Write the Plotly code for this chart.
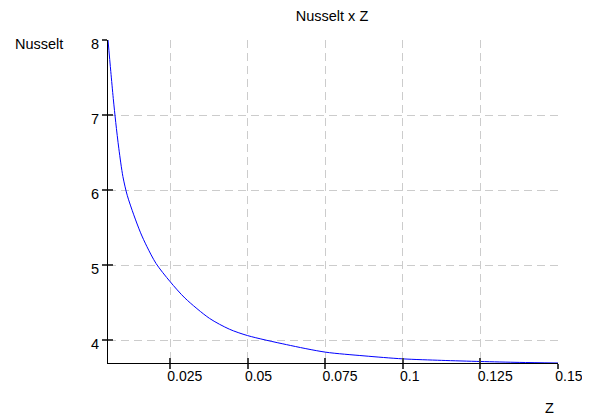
import plotly.graph_objects as go

z_values = [0.005, 0.0059, 0.0067, 0.0075, 0.0085, 0.0098, 0.0112, 0.0133, 0.0155,
            0.0175, 0.0205, 0.025, 0.0298, 0.0377, 0.0441, 0.05, 0.0625, 0.075,
            0.0875, 0.1, 0.1125, 0.125, 0.1375, 0.15]
nusselt_values = [8.0, 7.58, 7.22, 6.9, 6.55, 6.18, 5.93, 5.67, 5.43,
                  5.25, 5.02, 4.78, 4.56, 4.29, 4.146, 4.06, 3.94, 3.84,
                  3.79, 3.75, 3.73, 3.715, 3.703, 3.695]
x_ticks = [0.025, 0.05, 0.075, 0.1, 0.125, 0.15]
x_tick_labels = ["0.025", "0.05", "0.075", "0.1", "0.125", "0.15"]
y_ticks = [4, 5, 6, 7, 8]
y_tick_labels = ["4", "5", "6", "7", "8"]

x_range = [0.005, 0.15]
y_range = [3.695, 8.0]

FAM = "Liberation Sans, Arial, sans-serif"
font = dict(family=FAM, size=14.5, color="#000")
xfont = dict(family=FAM, size=14, color="#000")

fig = go.Figure()
fig.add_trace(go.Scatter(x=z_values, y=nusselt_values, mode="lines",
                         line=dict(color="#0000ff", width=1, shape="spline", smoothing=0.8),
                         showlegend=False, hoverinfo="skip"))

common = dict(showline=True, linecolor="#000", linewidth=1, zeroline=False,
              tickcolor="#444", ticklen=5, tickwidth=1.5, automargin=False)

# page has an 8px body margin, so the figure is laid out 8px smaller
W, H = 582, 411
fig.update_layout(
    width=W, height=H,
    margin=dict(l=100, r=32, t=32, b=56, autoexpand=False),
    paper_bgcolor="white", plot_bgcolor="white",
    font=font,
    title=dict(text="Nusselt x Z", x=324/W, xref="container", xanchor="center",
               y=1-8/H, yref="container", yanchor="middle",
               font=dict(family=FAM, size=14.5, color="#000")),
    xaxis=dict(range=x_range, tickvals=x_ticks, ticktext=x_tick_labels, ticks="outside",
               ticklabelposition="outside right", ticklabelshift=-4,
               ticklabeloverflow="allow",
               showgrid=True, gridcolor="#cccccc", griddash="8px,5px", gridwidth=1,
               tickfont=xfont, **common),
    yaxis=dict(range=y_range, tickvals=y_ticks, ticktext=y_tick_labels, ticks="outside",
               ticklabelshift=4,
               showgrid=True, gridcolor="#cccccc", griddash="8px,5px", gridwidth=1,
               tickfont=font, **common),
    xaxis2=dict(range=x_range, tickvals=x_ticks, ticks="inside", showticklabels=False,
                showgrid=False, overlaying="x", matches="x", **common),
    yaxis2=dict(range=y_range, tickvals=y_ticks, ticks="inside", showticklabels=False,
                showgrid=False, overlaying="y", matches="y", **common),
    annotations=[
        dict(text="Nusselt", xref="paper", yref="paper", x=(13.3-108)/450, y=(363-44)/323,
             xanchor="left", yanchor="middle", showarrow=False, font=font),
        dict(text="Z", xref="paper", yref="paper", x=(549-108)/450, y=(363-408)/323,
             xanchor="center", yanchor="middle", showarrow=False, font=font),
    ],
)
# invisible trace to activate overlay axes for the inner tick marks
fig.add_trace(go.Scatter(x=[x_range[0]], y=[y_range[0]], xaxis="x2", yaxis="y2",
                         mode="markers", marker=dict(opacity=0), showlegend=False,
                         hoverinfo="skip"))

fig.write_html("out.html")
